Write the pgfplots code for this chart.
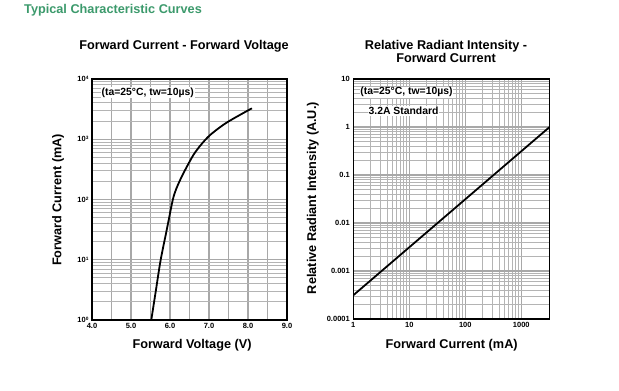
\documentclass[border=0pt]{standalone}
\usepackage{pgfplots}
\pgfplotsset{compat=1.18}
\usepackage{fontspec}
\setmainfont{Liberation Sans}
\definecolor{hdrgreen}{HTML}{3C9A6C}
\definecolor{gridgray}{HTML}{A8A8A8}
\definecolor{minorgray}{HTML}{B4B4B4}
\pgfplotstableread{
V I
5.52 1
5.64 3.15
5.76 9.9
5.915 31
6.07 98
6.16 150
6.26 211
6.40 320
6.60 548
6.79 803
7.03 1178
7.45 1884
8.10 3265
}\fvdata
\pgfplotstableread{
I R
1 0.0003125
10 0.003125
100 0.03125
1000 0.3125
3200 1
}\rdata
\newcommand{\supx}[1]{\raisebox{0.55ex}{\fontsize{4.8}{5}\selectfont #1}}
\begin{document}
\begin{tikzpicture}
\fill[white] (0pt,0pt) rectangle (619pt,-391pt);
\node[anchor=base west, text=hdrgreen, font=\bfseries\fontsize{12.7}{14}\selectfont, inner sep=0] at (24pt,-13.5pt) {Typical Characteristic Curves};
\pgfplotsset{
  common/.style={
    scale only axis,
    anchor=south west,
    axis line style={black, line width=1.1pt},
    grid=both,
    major grid style={gridgray, line width=1.3pt},
    minor grid style={minorgray, line width=1pt},
    major tick length=0pt, minor tick length=0pt,
    tick label style={font=\bfseries\fontsize{7.5}{8}\selectfont},
    /pgf/number format/assume math mode=true,
    label style={font=\bfseries\fontsize{12.7}{14}\selectfont},
    title style={font=\bfseries\fontsize{12.7}{13.3}\selectfont, align=center},
  }
}
\begin{axis}[common,
  at={(92pt,-320pt)}, width=195pt, height=241pt,
  xmin=4, xmax=9, ymin=1, ymax=10000, ymode=log,
  xtick={4,4.5,5,5.5,6,6.5,7,7.5,8,8.5,9}, xticklabels={4.0,,5.0,,6.0,,7.0,,8.0,,9.0},
  ytick={1,10,100,1000,10000},
  yticklabels={10\supx{0},10\supx{1},10\supx{2},10\supx{3},10\supx{4}},
  xlabel={Forward Voltage (V)},
  xlabel style={at={(axis description cs:0.513,-0.104)}, anchor=center},
  ylabel={Forward Current (mA)},
  ylabel style={at={(axis description cs:-0.174,0.498)}, anchor=center, rotate=0},
  title={Forward Current - Forward Voltage},
  title style={at={(axis description cs:0.472,1.112)}, anchor=center},
]
\addplot[black, line width=1.8pt, smooth, tension=0.5] table[x=V,y=I] {\fvdata};
\node[anchor=west, fill=white, inner sep=0.8pt, font=\bfseries\fontsize{10.4}{11}\selectfont] at (axis description cs:0.044,0.943) {(ta=25°C, tw=10µs)};
\end{axis}
\begin{axis}[common,
  at={(353.3pt,-319pt)}, width=196pt, height=240pt,
  xmode=log, ymode=log,
  xmin=1, xmax=3162, ymin=0.0001, ymax=10,
  xtick={1,10,100,1000}, xticklabels={1,10,100,1000},
  ytick={0.0001,0.001,0.01,0.1,1,10},
  yticklabels={0.0001,0.001,0.01,0.1,1,10},
  xlabel={Forward Current (mA)},
  xlabel style={at={(axis description cs:0.502,-0.108)}, anchor=center},
  ylabel={Relative Radiant Intensity (A.U.)},
  ylabel style={at={(axis description cs:-0.206,0.504)}, anchor=center, rotate=0},
  title={Relative Radiant Intensity -\\Forward Current},
  title style={at={(axis description cs:0.473,1.089)}, anchor=center},
]
\addplot[black, line width=1.8pt] table[x=I,y=R] {\rdata};
\node[anchor=west, fill=white, inner sep=0.8pt, font=\bfseries\fontsize{10.4}{11}\selectfont] at (axis description cs:0.031,0.945) {(ta=25°C, tw=10µs)};
\node[anchor=west, fill=white, inner sep=0.8pt, font=\bfseries\fontsize{10.4}{11}\selectfont] at (axis description cs:0.073,0.867) {3.2A Standard};
\end{axis}
\end{tikzpicture}
\end{document}
